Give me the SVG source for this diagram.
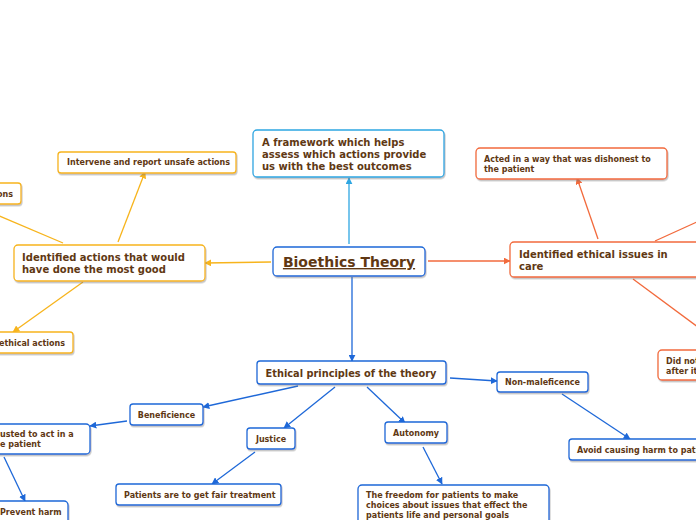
<svg xmlns="http://www.w3.org/2000/svg" width="696" height="520" viewBox="0 0 696 520">
<defs>
<style>
text{font-family:"DejaVu Sans","Verdana",sans-serif;font-weight:bold;fill:#603813}
.s{font-size:8px}
.m{font-size:9.8px}
.l{font-size:10px}
.box{fill:#fff;stroke-width:1.3;filter:url(#sh)}
.y{stroke:#f7b41c}
.o{stroke:#f26a3c}
.c{stroke:#2ea6e2}
.b{stroke:#1e68d8}
.ln{fill:none;stroke-width:1.3}
</style>
<filter id="sh" x="-10%" y="-20%" width="120%" height="150%">
<feDropShadow dx="0.8" dy="1.5" stdDeviation="0.7" flood-color="#777" flood-opacity="0.45"/>
</filter>
<marker id="ay" viewBox="0 0 10 10" refX="9" refY="5" markerWidth="7" markerHeight="7" markerUnits="userSpaceOnUse" orient="auto"><path d="M0,0L10,5L0,10z" fill="#f7b41c"/></marker>
<marker id="ao" viewBox="0 0 10 10" refX="9" refY="5" markerWidth="7" markerHeight="7" markerUnits="userSpaceOnUse" orient="auto"><path d="M0,0L10,5L0,10z" fill="#f26a3c"/></marker>
<marker id="ac" viewBox="0 0 10 10" refX="9" refY="5" markerWidth="7" markerHeight="7" markerUnits="userSpaceOnUse" orient="auto"><path d="M0,0L10,5L0,10z" fill="#2ea6e2"/></marker>
<marker id="ab" viewBox="0 0 10 10" refX="9" refY="5" markerWidth="7" markerHeight="7" markerUnits="userSpaceOnUse" orient="auto"><path d="M0,0L10,5L0,10z" fill="#1e68d8"/></marker>
</defs>
<rect width="696" height="520" fill="#fff"/>
<g id="connectors">
<line class="ln c" x1="349" y1="244" x2="349" y2="178" marker-end="url(#ac)"/>
<line class="ln y" x1="271" y1="262" x2="205" y2="263" marker-end="url(#ay)"/>
<line class="ln y" x1="118" y1="242" x2="145" y2="172" marker-end="url(#ay)"/>
<line class="ln y" x1="63" y1="243" x2="-10" y2="212"/>
<line class="ln y" x1="83" y1="282" x2="13" y2="332" marker-end="url(#ay)"/>
<line class="ln o" x1="428" y1="261" x2="510" y2="261" marker-end="url(#ao)"/>
<line class="ln o" x1="598" y1="239" x2="577" y2="178" marker-end="url(#ao)"/>
<line class="ln o" x1="655" y1="241" x2="710" y2="216"/>
<line class="ln o" x1="633" y1="279" x2="710" y2="336"/>
<line class="ln b" x1="352" y1="277" x2="352" y2="361" marker-end="url(#ab)"/>
<line class="ln b" x1="298" y1="386" x2="203" y2="407" marker-end="url(#ab)"/>
<line class="ln b" x1="127" y1="421" x2="90" y2="426" marker-end="url(#ab)"/>
<line class="ln b" x1="4" y1="457" x2="25" y2="501" marker-end="url(#ab)"/>
<line class="ln b" x1="335" y1="387" x2="284" y2="428" marker-end="url(#ab)"/>
<line class="ln b" x1="255" y1="452" x2="212" y2="484" marker-end="url(#ab)"/>
<line class="ln b" x1="367" y1="387" x2="405" y2="423" marker-end="url(#ab)"/>
<line class="ln b" x1="423" y1="447" x2="442" y2="484" marker-end="url(#ab)"/>
<line class="ln b" x1="450" y1="378" x2="497" y2="381" marker-end="url(#ab)"/>
<line class="ln b" x1="562" y1="394" x2="630" y2="439" marker-end="url(#ab)"/>
</g>
<g id="root">
<rect class="box b" x="273" y="247" width="152" height="29" rx="4"/>
<text x="349" y="267" text-anchor="middle" style="font-size:14px" text-decoration="underline">Bioethics Theory</text>
</g>
<g id="framework">
<rect class="box c" x="253" y="130" width="191" height="47" rx="4"/>
<text class="l" x="262" y="146">A framework which helps</text>
<text class="l" x="262" y="158">assess which actions provide</text>
<text class="l" x="262" y="170">us with the best outcomes</text>
</g>
<g id="good">
<rect class="box y" x="14" y="245" width="191" height="36" rx="4"/>
<text class="l" x="22" y="261">Identified actions that would</text>
<text class="l" x="22" y="273">have done the most good</text>
</g>
<g id="intervene">
<rect class="box y" x="58" y="152" width="178" height="21" rx="3"/>
<text class="s" x="67" y="165">Intervene and report unsafe actions</text>
</g>
<g id="ons">
<rect class="box y" x="-60" y="183" width="81" height="21" rx="3"/>
<text class="s" x="13" y="197" text-anchor="end">ons</text>
</g>
<g id="ethical-actions">
<rect class="box y" x="-60" y="332" width="133" height="21" rx="3"/>
<text class="s" x="65" y="346" text-anchor="end">ethical actions</text>
</g>
<g id="issues">
<rect class="box o" x="510" y="242" width="200" height="35" rx="4"/>
<text class="l" x="519" y="258">Identified ethical issues in</text>
<text class="l" x="519" y="270">care</text>
</g>
<g id="dishonest">
<rect class="box o" x="476" y="148" width="191" height="31" rx="4"/>
<text class="s" x="484" y="162">Acted in a way that was dishonest to</text>
<text class="s" x="484" y="172">the patient</text>
</g>
<g id="did-not">
<rect class="box o" x="658" y="350" width="80" height="30" rx="4"/>
<text class="s" x="666" y="364">Did not</text>
<text class="s" x="666" y="374">after it</text>
</g>
<g id="principles">
<rect class="box b" x="257" y="361" width="189" height="23" rx="3"/>
<text class="m" x="351" y="377" text-anchor="middle">Ethical principles of the theory</text>
</g>
<g id="beneficience">
<rect class="box b" x="130" y="404" width="73" height="21" rx="3"/>
<text class="s" x="166.5" y="418" text-anchor="middle">Beneficience</text>
</g>
<g id="trusted">
<rect class="box b" x="-60" y="424" width="150" height="30" rx="4"/>
<text class="s" x="0" y="437">usted to act in a</text>
<text class="s" x="0" y="447">e patient</text>
</g>
<g id="prevent">
<rect class="box b" x="-40" y="501" width="108" height="30" rx="4"/>
<text class="s" x="0" y="515">Prevent harm</text>
</g>
<g id="justice">
<rect class="box b" x="247" y="428" width="48" height="21" rx="3"/>
<text class="s" x="271" y="442" text-anchor="middle">Justice</text>
</g>
<g id="fair">
<rect class="box b" x="116" y="484" width="165" height="21" rx="3"/>
<text class="s" x="124" y="498">Patients are to get fair treatment</text>
</g>
<g id="autonomy">
<rect class="box b" x="385" y="422" width="62" height="21" rx="3"/>
<text class="s" x="416" y="436" text-anchor="middle">Autonomy</text>
</g>
<g id="freedom">
<rect class="box b" x="358" y="485" width="191" height="45" rx="4"/>
<text class="s" x="366" y="498">The freedom for patients to make</text>
<text class="s" x="366" y="508">choices about issues that effect the</text>
<text class="s" x="366" y="518">patients life and personal goals</text>
</g>
<g id="nonmaleficence">
<rect class="box b" x="497" y="372" width="91" height="20" rx="3"/>
<text class="s" x="542.5" y="385" text-anchor="middle">Non-maleficence</text>
</g>
<g id="avoid">
<rect class="box b" x="569" y="439" width="150" height="21" rx="3"/>
<text class="s" x="577" y="453">Avoid causing harm to pati</text>
</g>
</svg>
